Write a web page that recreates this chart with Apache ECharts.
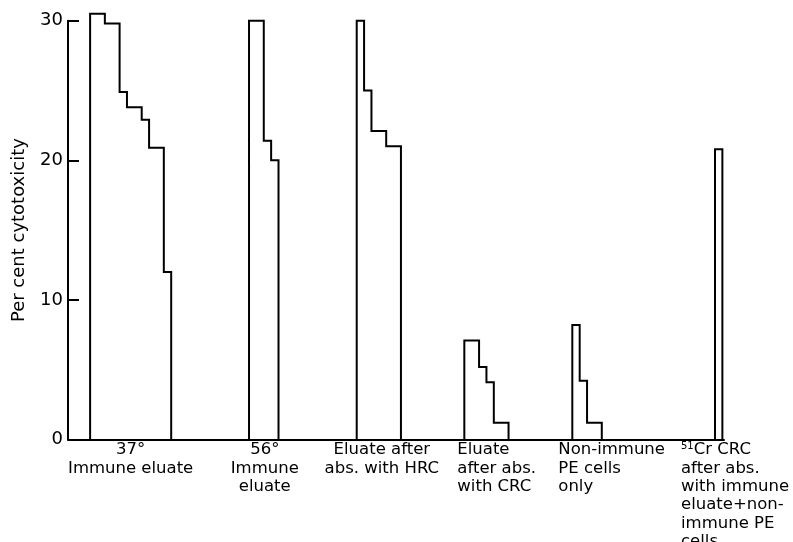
<!DOCTYPE html>
<html>
<head>
<meta charset="utf-8">
<script src="https://cdn.jsdelivr.net/npm/echarts@6/dist/echarts.min.js"></script>
<style>html,body{margin:0;padding:0;background:#fff}#c{width:793px;height:542px}</style>
</head>
<body>
<div id="c"></div>
<script>
// Per cent cytotoxicity of each sample, grouped by treatment
var categories = [
  '37°\nImmune eluate',
  '56°\nImmune\neluate',
  'Eluate after\nabs. with HRC',
  'Eluate\nafter abs.\nwith CRC',
  'Non-immune\nPE cells\nonly',
  '{sup|51}Cr CRC\nafter abs.\nwith immune\neluate+non-\nimmune PE\ncells'
];
var immune37 = [30.5, 30.5, 29.8, 29.8, 24.9, 23.8, 23.8, 22.9, 20.9, 20.9, 12.0];
var immune56 = [30.0, 30.0, 21.4, 20.0];
var afterHRC = [30.0, 25.0, 22.1, 22.1, 21.0, 21.0];
var afterCRC = [7.1, 7.1, 5.2, 4.1, 1.2, 1.2];
var nonImmune = [8.2, 4.2, 1.2, 1.2];
var crcAfterAbs = [20.8];
var yTicks = [0, 10, 20, 30];

var groups = [immune37, immune56, afterHRC, afterCRC, nonImmune, crcAfterAbs];

// layout (sample-slot units along x) and label styling
var groupStart = [3.0, 24.56, 39.17, 53.77, 68.42, 87.78];
var labelStyle = [
  {align: 'center', dx: 0},
  {align: 'center', dx: 1},
  {align: 'center', dx: 3},
  {align: 'left', dx: -7},
  {align: 'left', dx: -14},
  {align: 'left', dx: -34}
];
var FONT = '"DejaVu Sans", sans-serif';

var chart = echarts.init(document.getElementById('c'), null, {renderer: 'canvas'});

chart.setOption({
  animation: false,
  backgroundColor: '#fff',
  grid: {left: 68, right: 69, top: 20.7, bottom: 102.5, containLabel: false},
  xAxis: {
    type: 'value', min: 0, max: 89,
    axisLine: {show: true, onZero: false, lineStyle: {color: '#000', width: 2}},
    axisTick: {show: false},
    axisLabel: {show: false},
    splitLine: {show: false}
  },
  yAxis: {
    type: 'value', min: 0, max: 30, interval: 10,
    name: 'Per cent cytotoxicity',
    nameLocation: 'middle',
    nameGap: 40,
    nameTextStyle: {color: '#000', fontSize: 18, fontFamily: FONT},
    axisLine: {show: true, lineStyle: {color: '#000', width: 2}},
    axisTick: {show: true, inside: true, length: 11, lineStyle: {color: '#000', width: 2}},
    axisLabel: {
      color: '#000', fontSize: 18, fontFamily: FONT, margin: 5,
      formatter: function (v) { return yTicks.indexOf(v) >= 0 ? String(v) : ''; }
    },
    splitLine: {show: false}
  },
  series: [{
    type: 'custom',
    clip: false,
    data: groups.map(function (g, i) { return [i]; }),
    encode: {x: 0},
    renderItem: function (params, api) {
      var i = api.value(0);
      var vals = groups[i];
      var x0 = groupStart[i];
      var pts = [];
      pts.push(api.coord([x0, 0]));
      for (var k = 0; k < vals.length; k++) {
        pts.push(api.coord([x0 + k, vals[k]]));
        pts.push(api.coord([x0 + k + 1, vals[k]]));
      }
      pts.push(api.coord([x0 + vals.length, 0]));
      var base = api.coord([x0, 0]);
      var ls = labelStyle[i];
      var tx;
      if (ls.align === 'center') {
        tx = api.coord([x0 + vals.length / 2, 0])[0] + ls.dx;
      } else {
        tx = base[0] + ls.dx;
      }
      return {
        type: 'group',
        children: [
          {
            type: 'polyline',
            shape: {points: pts},
            style: {stroke: '#000', lineWidth: 2, fill: null, lineJoin: 'miter'}
          },
          {
            type: 'text',
            x: tx,
            y: base[1] + 1.5,
            style: {
              text: categories[i],
              fill: '#000',
              fontSize: 16.5,
              fontFamily: FONT,
              lineHeight: 18.3,
              align: ls.align,
              verticalAlign: 'top',
              rich: {
                sup: {fontSize: 10, fontFamily: FONT, fill: '#000', lineHeight: 18.3, verticalAlign: 'top', padding: [0, 0, 6, 0]}
              }
            }
          }
        ]
      };
    }
  }]
});
</script>
</body>
</html>
